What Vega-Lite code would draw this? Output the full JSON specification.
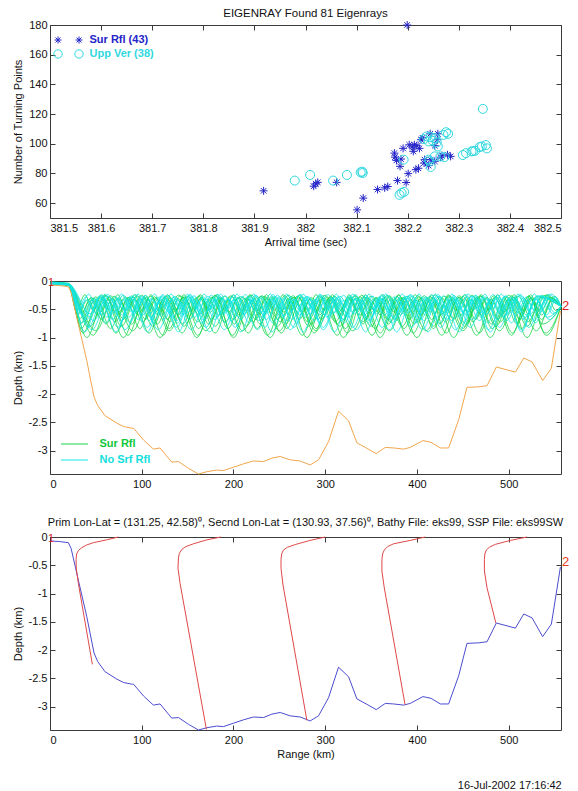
{
"$schema": "https://vega.github.io/schema/vega-lite/v6.json",
"autosize": "none",
"padding": {"left": 50, "top": 25, "right": 528, "bottom": 766},
"title": {"text": "16-Jul-2002 17:16:42", "orient": "bottom", "anchor": "end", "frame": "bounds", "offset": 20, "dx": -8, "fontSize": 11, "fontWeight": "normal", "color": "#111"},
"datasets": {
"pts": [
{"t":381.918,"n":68.3,"s":"Sur Rfl (43)"},{"t":382.016,"n":71.4,"s":"Sur Rfl (43)"},{"t":382.020,"n":73.0,"s":"Sur Rfl (43)"},{"t":382.024,"n":74.0,"s":"Sur Rfl (43)"},{"t":382.061,"n":74.0,"s":"Sur Rfl (43)"},{"t":382.101,"n":55.5,"s":"Sur Rfl (43)"},{"t":382.113,"n":63.4,"s":"Sur Rfl (43)"},{"t":382.141,"n":69.2,"s":"Sur Rfl (43)"},{"t":382.155,"n":70.3,"s":"Sur Rfl (43)"},{"t":382.161,"n":71.2,"s":"Sur Rfl (43)"},{"t":382.180,"n":75.2,"s":"Sur Rfl (43)"},{"t":382.197,"n":73.9,"s":"Sur Rfl (43)"},{"t":382.201,"n":79.9,"s":"Sur Rfl (43)"},{"t":382.216,"n":82.6,"s":"Sur Rfl (43)"},{"t":382.221,"n":83.5,"s":"Sur Rfl (43)"},{"t":382.174,"n":93.7,"s":"Sur Rfl (43)"},{"t":382.175,"n":91.0,"s":"Sur Rfl (43)"},{"t":382.178,"n":88.8,"s":"Sur Rfl (43)"},{"t":382.187,"n":89.7,"s":"Sur Rfl (43)"},{"t":382.185,"n":84.8,"s":"Sur Rfl (43)"},{"t":382.191,"n":96.9,"s":"Sur Rfl (43)"},{"t":382.209,"n":97.8,"s":"Sur Rfl (43)"},{"t":382.213,"n":99.3,"s":"Sur Rfl (43)"},{"t":382.218,"n":98.7,"s":"Sur Rfl (43)"},{"t":382.211,"n":94.9,"s":"Sur Rfl (43)"},{"t":382.223,"n":96.9,"s":"Sur Rfl (43)"},{"t":382.226,"n":102.7,"s":"Sur Rfl (43)"},{"t":382.233,"n":89.3,"s":"Sur Rfl (43)"},{"t":382.232,"n":87.0,"s":"Sur Rfl (43)"},{"t":382.244,"n":106.7,"s":"Sur Rfl (43)"},{"t":382.259,"n":106.7,"s":"Sur Rfl (43)"},{"t":382.258,"n":102.7,"s":"Sur Rfl (43)"},{"t":382.253,"n":98.7,"s":"Sur Rfl (43)"},{"t":382.253,"n":88.2,"s":"Sur Rfl (43)"},{"t":382.264,"n":91.0,"s":"Sur Rfl (43)"},{"t":382.278,"n":92.6,"s":"Sur Rfl (43)"},{"t":382.284,"n":91.5,"s":"Sur Rfl (43)"},{"t":382.245,"n":89.3,"s":"Sur Rfl (43)"},{"t":382.199,"n":180,"s":"Sur Rfl (43)"},{"t":382.203,"n":99.3,"s":"Sur Rfl (43)"},{"t":382.241,"n":85.3,"s":"Sur Rfl (43)"},{"t":382.267,"n":92.0,"s":"Sur Rfl (43)"},{"t":382.229,"n":104.0,"s":"Sur Rfl (43)"},
{"t":381.979,"n":75.2,"s":"Upp Ver (38)"},{"t":382.009,"n":79.0,"s":"Upp Ver (38)"},{"t":382.054,"n":75.2,"s":"Upp Ver (38)"},{"t":382.081,"n":79.0,"s":"Upp Ver (38)"},{"t":382.108,"n":80.8,"s":"Upp Ver (38)"},{"t":382.111,"n":81.2,"s":"Upp Ver (38)"},{"t":382.184,"n":65.6,"s":"Upp Ver (38)"},{"t":382.188,"n":66.9,"s":"Upp Ver (38)"},{"t":382.193,"n":67.6,"s":"Upp Ver (38)"},{"t":382.192,"n":89.3,"s":"Upp Ver (38)"},{"t":382.245,"n":84.4,"s":"Upp Ver (38)"},{"t":382.243,"n":88.2,"s":"Upp Ver (38)"},{"t":382.253,"n":91.5,"s":"Upp Ver (38)"},{"t":382.264,"n":91.5,"s":"Upp Ver (38)"},{"t":382.232,"n":103.1,"s":"Upp Ver (38)"},{"t":382.241,"n":101.6,"s":"Upp Ver (38)"},{"t":382.245,"n":104.5,"s":"Upp Ver (38)"},{"t":382.253,"n":103.8,"s":"Upp Ver (38)"},{"t":382.259,"n":98.2,"s":"Upp Ver (38)"},{"t":382.257,"n":100.9,"s":"Upp Ver (38)"},{"t":382.270,"n":106.0,"s":"Upp Ver (38)"},{"t":382.275,"n":107.8,"s":"Upp Ver (38)"},{"t":382.279,"n":106.7,"s":"Upp Ver (38)"},{"t":382.308,"n":92.4,"s":"Upp Ver (38)"},{"t":382.314,"n":93.7,"s":"Upp Ver (38)"},{"t":382.325,"n":94.9,"s":"Upp Ver (38)"},{"t":382.332,"n":95.3,"s":"Upp Ver (38)"},{"t":382.341,"n":97.8,"s":"Upp Ver (38)"},{"t":382.345,"n":98.2,"s":"Upp Ver (38)"},{"t":382.353,"n":99.1,"s":"Upp Ver (38)"},{"t":382.355,"n":96.9,"s":"Upp Ver (38)"},{"t":382.347,"n":123.5,"s":"Upp Ver (38)"},{"t":382.237,"n":104.9,"s":"Upp Ver (38)"},{"t":382.241,"n":89.3,"s":"Upp Ver (38)"},{"t":382.272,"n":91.0,"s":"Upp Ver (38)"},{"t":382.112,"n":80.3,"s":"Upp Ver (38)"},{"t":382.249,"n":102.0,"s":"Upp Ver (38)"},{"t":382.328,"n":95.0,"s":"Upp Ver (38)"}
],
"green": [
{"i":1,"r":0,"d":-0.03},{"i":1,"r":20,"d":-0.05},{"i":1,"r":40,"d":-1},{"i":1,"r":60,"d":-0.25},{"i":1,"r":80,"d":-1},{"i":1,"r":100,"d":-0.25},{"i":1,"r":120,"d":-1},{"i":1,"r":140,"d":-0.25},{"i":1,"r":160,"d":-1},{"i":1,"r":180,"d":-0.25},{"i":1,"r":200,"d":-1},{"i":1,"r":220,"d":-0.25},{"i":1,"r":240,"d":-1},{"i":1,"r":260,"d":-0.25},{"i":1,"r":280,"d":-1},{"i":1,"r":300,"d":-0.25},{"i":1,"r":320,"d":-1},{"i":1,"r":340,"d":-0.25},{"i":1,"r":360,"d":-1},{"i":1,"r":380,"d":-0.25},{"i":1,"r":400,"d":-1},{"i":1,"r":420,"d":-0.25},{"i":1,"r":440,"d":-1},{"i":1,"r":460,"d":-0.25},{"i":1,"r":480,"d":-1},{"i":1,"r":500,"d":-0.25},{"i":1,"r":520,"d":-1},{"i":1,"r":540,"d":-0.25},{"i":1,"r":557,"d":-0.45},
{"i":2,"r":0,"d":-0.04},{"i":2,"r":20,"d":-0.06},{"i":2,"r":36,"d":-0.92},{"i":2,"r":54,"d":-0.27},{"i":2,"r":72,"d":-0.92},{"i":2,"r":90,"d":-0.27},{"i":2,"r":108,"d":-0.92},{"i":2,"r":126,"d":-0.27},{"i":2,"r":144,"d":-0.92},{"i":2,"r":162,"d":-0.27},{"i":2,"r":180,"d":-0.92},{"i":2,"r":198,"d":-0.27},{"i":2,"r":216,"d":-0.92},{"i":2,"r":234,"d":-0.27},{"i":2,"r":252,"d":-0.92},{"i":2,"r":270,"d":-0.27},{"i":2,"r":288,"d":-0.92},{"i":2,"r":306,"d":-0.27},{"i":2,"r":324,"d":-0.92},{"i":2,"r":342,"d":-0.27},{"i":2,"r":360,"d":-0.92},{"i":2,"r":378,"d":-0.27},{"i":2,"r":396,"d":-0.92},{"i":2,"r":414,"d":-0.27},{"i":2,"r":432,"d":-0.92},{"i":2,"r":450,"d":-0.27},{"i":2,"r":468,"d":-0.92},{"i":2,"r":486,"d":-0.27},{"i":2,"r":504,"d":-0.92},{"i":2,"r":522,"d":-0.27},{"i":2,"r":540,"d":-0.92},{"i":2,"r":557,"d":-0.45},
{"i":3,"r":0,"d":-0.05},{"i":3,"r":20,"d":-0.07},{"i":3,"r":34,"d":-0.84},{"i":3,"r":50,"d":-0.28},{"i":3,"r":66,"d":-0.84},{"i":3,"r":82,"d":-0.28},{"i":3,"r":98,"d":-0.84},{"i":3,"r":114,"d":-0.28},{"i":3,"r":130,"d":-0.84},{"i":3,"r":146,"d":-0.28},{"i":3,"r":162,"d":-0.84},{"i":3,"r":178,"d":-0.28},{"i":3,"r":194,"d":-0.84},{"i":3,"r":210,"d":-0.28},{"i":3,"r":226,"d":-0.84},{"i":3,"r":242,"d":-0.28},{"i":3,"r":258,"d":-0.84},{"i":3,"r":274,"d":-0.28},{"i":3,"r":290,"d":-0.84},{"i":3,"r":306,"d":-0.28},{"i":3,"r":322,"d":-0.84},{"i":3,"r":338,"d":-0.28},{"i":3,"r":354,"d":-0.84},{"i":3,"r":370,"d":-0.28},{"i":3,"r":386,"d":-0.84},{"i":3,"r":402,"d":-0.28},{"i":3,"r":418,"d":-0.84},{"i":3,"r":434,"d":-0.28},{"i":3,"r":450,"d":-0.84},{"i":3,"r":466,"d":-0.28},{"i":3,"r":482,"d":-0.84},{"i":3,"r":498,"d":-0.28},{"i":3,"r":514,"d":-0.84},{"i":3,"r":530,"d":-0.28},{"i":3,"r":557,"d":-0.45},
{"i":4,"r":0,"d":-0.02},{"i":4,"r":20,"d":-0.05},{"i":4,"r":33,"d":-0.76},{"i":4,"r":47,"d":-0.3},{"i":4,"r":61,"d":-0.76},{"i":4,"r":75,"d":-0.3},{"i":4,"r":89,"d":-0.76},{"i":4,"r":103,"d":-0.3},{"i":4,"r":117,"d":-0.76},{"i":4,"r":131,"d":-0.3},{"i":4,"r":145,"d":-0.76},{"i":4,"r":159,"d":-0.3},{"i":4,"r":173,"d":-0.76},{"i":4,"r":187,"d":-0.3},{"i":4,"r":201,"d":-0.76},{"i":4,"r":215,"d":-0.3},{"i":4,"r":229,"d":-0.76},{"i":4,"r":243,"d":-0.3},{"i":4,"r":257,"d":-0.76},{"i":4,"r":271,"d":-0.3},{"i":4,"r":285,"d":-0.76},{"i":4,"r":299,"d":-0.3},{"i":4,"r":313,"d":-0.76},{"i":4,"r":327,"d":-0.3},{"i":4,"r":341,"d":-0.76},{"i":4,"r":355,"d":-0.3},{"i":4,"r":369,"d":-0.76},{"i":4,"r":383,"d":-0.3},{"i":4,"r":397,"d":-0.76},{"i":4,"r":411,"d":-0.3},{"i":4,"r":425,"d":-0.76},{"i":4,"r":439,"d":-0.3},{"i":4,"r":453,"d":-0.76},{"i":4,"r":467,"d":-0.3},{"i":4,"r":481,"d":-0.76},{"i":4,"r":495,"d":-0.3},{"i":4,"r":509,"d":-0.76},{"i":4,"r":523,"d":-0.3},{"i":4,"r":537,"d":-0.76},{"i":4,"r":557,"d":-0.45},
{"i":5,"r":0,"d":-0.06},{"i":5,"r":20,"d":-0.08},{"i":5,"r":32,"d":-0.68},{"i":5,"r":44,"d":-0.31},{"i":5,"r":56,"d":-0.68},{"i":5,"r":68,"d":-0.31},{"i":5,"r":80,"d":-0.68},{"i":5,"r":92,"d":-0.31},{"i":5,"r":104,"d":-0.68},{"i":5,"r":116,"d":-0.31},{"i":5,"r":128,"d":-0.68},{"i":5,"r":140,"d":-0.31},{"i":5,"r":152,"d":-0.68},{"i":5,"r":164,"d":-0.31},{"i":5,"r":176,"d":-0.68},{"i":5,"r":188,"d":-0.31},{"i":5,"r":200,"d":-0.68},{"i":5,"r":212,"d":-0.31},{"i":5,"r":224,"d":-0.68},{"i":5,"r":236,"d":-0.31},{"i":5,"r":248,"d":-0.68},{"i":5,"r":260,"d":-0.31},{"i":5,"r":272,"d":-0.68},{"i":5,"r":284,"d":-0.31},{"i":5,"r":296,"d":-0.68},{"i":5,"r":308,"d":-0.31},{"i":5,"r":320,"d":-0.68},{"i":5,"r":332,"d":-0.31},{"i":5,"r":344,"d":-0.68},{"i":5,"r":356,"d":-0.31},{"i":5,"r":368,"d":-0.68},{"i":5,"r":380,"d":-0.31},{"i":5,"r":392,"d":-0.68},{"i":5,"r":404,"d":-0.31},{"i":5,"r":416,"d":-0.68},{"i":5,"r":428,"d":-0.31},{"i":5,"r":440,"d":-0.68},{"i":5,"r":452,"d":-0.31},{"i":5,"r":464,"d":-0.68},{"i":5,"r":476,"d":-0.31},{"i":5,"r":488,"d":-0.68},{"i":5,"r":500,"d":-0.31},{"i":5,"r":512,"d":-0.68},{"i":5,"r":524,"d":-0.31},{"i":5,"r":536,"d":-0.68},{"i":5,"r":548,"d":-0.31},{"i":5,"r":557,"d":-0.45},
{"i":6,"r":0,"d":-0.03},{"i":6,"r":20,"d":-0.06},{"i":6,"r":30,"d":-0.6},{"i":6,"r":41,"d":-0.33},{"i":6,"r":52,"d":-0.6},{"i":6,"r":63,"d":-0.33},{"i":6,"r":74,"d":-0.6},{"i":6,"r":85,"d":-0.33},{"i":6,"r":96,"d":-0.6},{"i":6,"r":107,"d":-0.33},{"i":6,"r":118,"d":-0.6},{"i":6,"r":129,"d":-0.33},{"i":6,"r":140,"d":-0.6},{"i":6,"r":151,"d":-0.33},{"i":6,"r":162,"d":-0.6},{"i":6,"r":173,"d":-0.33},{"i":6,"r":184,"d":-0.6},{"i":6,"r":195,"d":-0.33},{"i":6,"r":206,"d":-0.6},{"i":6,"r":217,"d":-0.33},{"i":6,"r":228,"d":-0.6},{"i":6,"r":239,"d":-0.33},{"i":6,"r":250,"d":-0.6},{"i":6,"r":261,"d":-0.33},{"i":6,"r":272,"d":-0.6},{"i":6,"r":283,"d":-0.33},{"i":6,"r":294,"d":-0.6},{"i":6,"r":305,"d":-0.33},{"i":6,"r":316,"d":-0.6},{"i":6,"r":327,"d":-0.33},{"i":6,"r":338,"d":-0.6},{"i":6,"r":349,"d":-0.33},{"i":6,"r":360,"d":-0.6},{"i":6,"r":371,"d":-0.33},{"i":6,"r":382,"d":-0.6},{"i":6,"r":393,"d":-0.33},{"i":6,"r":404,"d":-0.6},{"i":6,"r":415,"d":-0.33},{"i":6,"r":426,"d":-0.6},{"i":6,"r":437,"d":-0.33},{"i":6,"r":448,"d":-0.6},{"i":6,"r":459,"d":-0.33},{"i":6,"r":470,"d":-0.6},{"i":6,"r":481,"d":-0.33},{"i":6,"r":492,"d":-0.6},{"i":6,"r":503,"d":-0.33},{"i":6,"r":514,"d":-0.6},{"i":6,"r":525,"d":-0.33},{"i":6,"r":536,"d":-0.6},{"i":6,"r":547,"d":-0.33},{"i":6,"r":557,"d":-0.45},
{"i":7,"r":0,"d":-0.04},{"i":7,"r":20,"d":-0.05},{"i":7,"r":47,"d":-0.96},{"i":7,"r":66,"d":-0.26},{"i":7,"r":85,"d":-0.96},{"i":7,"r":104,"d":-0.26},{"i":7,"r":123,"d":-0.96},{"i":7,"r":142,"d":-0.26},{"i":7,"r":161,"d":-0.96},{"i":7,"r":180,"d":-0.26},{"i":7,"r":199,"d":-0.96},{"i":7,"r":218,"d":-0.26},{"i":7,"r":237,"d":-0.96},{"i":7,"r":256,"d":-0.26},{"i":7,"r":275,"d":-0.96},{"i":7,"r":294,"d":-0.26},{"i":7,"r":313,"d":-0.96},{"i":7,"r":332,"d":-0.26},{"i":7,"r":351,"d":-0.96},{"i":7,"r":370,"d":-0.26},{"i":7,"r":389,"d":-0.96},{"i":7,"r":408,"d":-0.26},{"i":7,"r":427,"d":-0.96},{"i":7,"r":446,"d":-0.26},{"i":7,"r":465,"d":-0.96},{"i":7,"r":484,"d":-0.26},{"i":7,"r":503,"d":-0.96},{"i":7,"r":522,"d":-0.26},{"i":7,"r":541,"d":-0.96},{"i":7,"r":557,"d":-0.45},
{"i":8,"r":0,"d":-0.05},{"i":8,"r":20,"d":-0.06},{"i":8,"r":41,"d":-0.72},{"i":8,"r":56,"d":-0.29},{"i":8,"r":71,"d":-0.72},{"i":8,"r":86,"d":-0.29},{"i":8,"r":101,"d":-0.72},{"i":8,"r":116,"d":-0.29},{"i":8,"r":131,"d":-0.72},{"i":8,"r":146,"d":-0.29},{"i":8,"r":161,"d":-0.72},{"i":8,"r":176,"d":-0.29},{"i":8,"r":191,"d":-0.72},{"i":8,"r":206,"d":-0.29},{"i":8,"r":221,"d":-0.72},{"i":8,"r":236,"d":-0.29},{"i":8,"r":251,"d":-0.72},{"i":8,"r":266,"d":-0.29},{"i":8,"r":281,"d":-0.72},{"i":8,"r":296,"d":-0.29},{"i":8,"r":311,"d":-0.72},{"i":8,"r":326,"d":-0.29},{"i":8,"r":341,"d":-0.72},{"i":8,"r":356,"d":-0.29},{"i":8,"r":371,"d":-0.72},{"i":8,"r":386,"d":-0.29},{"i":8,"r":401,"d":-0.72},{"i":8,"r":416,"d":-0.29},{"i":8,"r":431,"d":-0.72},{"i":8,"r":446,"d":-0.29},{"i":8,"r":461,"d":-0.72},{"i":8,"r":476,"d":-0.29},{"i":8,"r":491,"d":-0.72},{"i":8,"r":506,"d":-0.29},{"i":8,"r":521,"d":-0.72},{"i":8,"r":536,"d":-0.29},{"i":8,"r":557,"d":-0.45},
{"i":9,"r":0,"d":-0.03},{"i":9,"r":20,"d":-0.05},{"i":9,"r":29,"d":-0.52},{"i":9,"r":38,"d":-0.24},{"i":9,"r":47,"d":-0.52},{"i":9,"r":56,"d":-0.24},{"i":9,"r":65,"d":-0.52},{"i":9,"r":74,"d":-0.24},{"i":9,"r":83,"d":-0.52},{"i":9,"r":92,"d":-0.24},{"i":9,"r":101,"d":-0.52},{"i":9,"r":110,"d":-0.24},{"i":9,"r":119,"d":-0.52},{"i":9,"r":128,"d":-0.24},{"i":9,"r":137,"d":-0.52},{"i":9,"r":146,"d":-0.24},{"i":9,"r":155,"d":-0.52},{"i":9,"r":164,"d":-0.24},{"i":9,"r":173,"d":-0.52},{"i":9,"r":182,"d":-0.24},{"i":9,"r":191,"d":-0.52},{"i":9,"r":200,"d":-0.24},{"i":9,"r":209,"d":-0.52},{"i":9,"r":218,"d":-0.24},{"i":9,"r":227,"d":-0.52},{"i":9,"r":236,"d":-0.24},{"i":9,"r":245,"d":-0.52},{"i":9,"r":254,"d":-0.24},{"i":9,"r":263,"d":-0.52},{"i":9,"r":272,"d":-0.24},{"i":9,"r":281,"d":-0.52},{"i":9,"r":290,"d":-0.24},{"i":9,"r":299,"d":-0.52},{"i":9,"r":308,"d":-0.24},{"i":9,"r":317,"d":-0.52},{"i":9,"r":326,"d":-0.24},{"i":9,"r":335,"d":-0.52},{"i":9,"r":344,"d":-0.24},{"i":9,"r":353,"d":-0.52},{"i":9,"r":362,"d":-0.24},{"i":9,"r":371,"d":-0.52},{"i":9,"r":380,"d":-0.24},{"i":9,"r":389,"d":-0.52},{"i":9,"r":398,"d":-0.24},{"i":9,"r":407,"d":-0.52},{"i":9,"r":416,"d":-0.24},{"i":9,"r":425,"d":-0.52},{"i":9,"r":434,"d":-0.24},{"i":9,"r":443,"d":-0.52},{"i":9,"r":452,"d":-0.24},{"i":9,"r":461,"d":-0.52},{"i":9,"r":470,"d":-0.24},{"i":9,"r":479,"d":-0.52},{"i":9,"r":488,"d":-0.24},{"i":9,"r":497,"d":-0.52},{"i":9,"r":506,"d":-0.24},{"i":9,"r":515,"d":-0.52},{"i":9,"r":524,"d":-0.24},{"i":9,"r":533,"d":-0.52},{"i":9,"r":542,"d":-0.24},{"i":9,"r":551,"d":-0.52},{"i":9,"r":557,"d":-0.45},
{"i":10,"r":0,"d":-0.04},{"i":10,"r":20,"d":-0.07},{"i":10,"r":50,"d":-0.88},{"i":10,"r":70,"d":-0.27},{"i":10,"r":90,"d":-0.88},{"i":10,"r":110,"d":-0.27},{"i":10,"r":130,"d":-0.88},{"i":10,"r":150,"d":-0.27},{"i":10,"r":170,"d":-0.88},{"i":10,"r":190,"d":-0.27},{"i":10,"r":210,"d":-0.88},{"i":10,"r":230,"d":-0.27},{"i":10,"r":250,"d":-0.88},{"i":10,"r":270,"d":-0.27},{"i":10,"r":290,"d":-0.88},{"i":10,"r":310,"d":-0.27},{"i":10,"r":330,"d":-0.88},{"i":10,"r":350,"d":-0.27},{"i":10,"r":370,"d":-0.88},{"i":10,"r":390,"d":-0.27},{"i":10,"r":410,"d":-0.88},{"i":10,"r":430,"d":-0.27},{"i":10,"r":450,"d":-0.88},{"i":10,"r":470,"d":-0.27},{"i":10,"r":490,"d":-0.88},{"i":10,"r":510,"d":-0.27},{"i":10,"r":530,"d":-0.88},{"i":10,"r":550,"d":-0.27},{"i":10,"r":557,"d":-0.45},
{"i":11,"r":0,"d":-0.05},{"i":11,"r":20,"d":-0.06},{"i":11,"r":35,"d":-0.55},{"i":11,"r":45,"d":-0.29},{"i":11,"r":55,"d":-0.55},{"i":11,"r":65,"d":-0.29},{"i":11,"r":75,"d":-0.55},{"i":11,"r":85,"d":-0.29},{"i":11,"r":95,"d":-0.55},{"i":11,"r":105,"d":-0.29},{"i":11,"r":115,"d":-0.55},{"i":11,"r":125,"d":-0.29},{"i":11,"r":135,"d":-0.55},{"i":11,"r":145,"d":-0.29},{"i":11,"r":155,"d":-0.55},{"i":11,"r":165,"d":-0.29},{"i":11,"r":175,"d":-0.55},{"i":11,"r":185,"d":-0.29},{"i":11,"r":195,"d":-0.55},{"i":11,"r":205,"d":-0.29},{"i":11,"r":215,"d":-0.55},{"i":11,"r":225,"d":-0.29},{"i":11,"r":235,"d":-0.55},{"i":11,"r":245,"d":-0.29},{"i":11,"r":255,"d":-0.55},{"i":11,"r":265,"d":-0.29},{"i":11,"r":275,"d":-0.55},{"i":11,"r":285,"d":-0.29},{"i":11,"r":295,"d":-0.55},{"i":11,"r":305,"d":-0.29},{"i":11,"r":315,"d":-0.55},{"i":11,"r":325,"d":-0.29},{"i":11,"r":335,"d":-0.55},{"i":11,"r":345,"d":-0.29},{"i":11,"r":355,"d":-0.55},{"i":11,"r":365,"d":-0.29},{"i":11,"r":375,"d":-0.55},{"i":11,"r":385,"d":-0.29},{"i":11,"r":395,"d":-0.55},{"i":11,"r":405,"d":-0.29},{"i":11,"r":415,"d":-0.55},{"i":11,"r":425,"d":-0.29},{"i":11,"r":435,"d":-0.55},{"i":11,"r":445,"d":-0.29},{"i":11,"r":455,"d":-0.55},{"i":11,"r":465,"d":-0.29},{"i":11,"r":475,"d":-0.55},{"i":11,"r":485,"d":-0.29},{"i":11,"r":495,"d":-0.55},{"i":11,"r":505,"d":-0.29},{"i":11,"r":515,"d":-0.55},{"i":11,"r":525,"d":-0.29},{"i":11,"r":535,"d":-0.55},{"i":11,"r":545,"d":-0.29},{"i":11,"r":557,"d":-0.45},
{"i":12,"r":0,"d":-0.02},{"i":12,"r":20,"d":-0.04},{"i":12,"r":44,"d":-0.8},{"i":12,"r":61,"d":-0.26},{"i":12,"r":78,"d":-0.8},{"i":12,"r":95,"d":-0.26},{"i":12,"r":112,"d":-0.8},{"i":12,"r":129,"d":-0.26},{"i":12,"r":146,"d":-0.8},{"i":12,"r":163,"d":-0.26},{"i":12,"r":180,"d":-0.8},{"i":12,"r":197,"d":-0.26},{"i":12,"r":214,"d":-0.8},{"i":12,"r":231,"d":-0.26},{"i":12,"r":248,"d":-0.8},{"i":12,"r":265,"d":-0.26},{"i":12,"r":282,"d":-0.8},{"i":12,"r":299,"d":-0.26},{"i":12,"r":316,"d":-0.8},{"i":12,"r":333,"d":-0.26},{"i":12,"r":350,"d":-0.8},{"i":12,"r":367,"d":-0.26},{"i":12,"r":384,"d":-0.8},{"i":12,"r":401,"d":-0.26},{"i":12,"r":418,"d":-0.8},{"i":12,"r":435,"d":-0.26},{"i":12,"r":452,"d":-0.8},{"i":12,"r":469,"d":-0.26},{"i":12,"r":486,"d":-0.8},{"i":12,"r":503,"d":-0.26},{"i":12,"r":520,"d":-0.8},{"i":12,"r":537,"d":-0.26},{"i":12,"r":557,"d":-0.45}
],
"cyan": [
{"i":1,"r":0,"d":-0.04},{"i":1,"r":20,"d":-0.06},{"i":1,"r":38,"d":-0.9},{"i":1,"r":55,"d":-0.26},{"i":1,"r":72,"d":-0.9},{"i":1,"r":89,"d":-0.26},{"i":1,"r":106,"d":-0.9},{"i":1,"r":123,"d":-0.26},{"i":1,"r":140,"d":-0.9},{"i":1,"r":157,"d":-0.26},{"i":1,"r":174,"d":-0.9},{"i":1,"r":191,"d":-0.26},{"i":1,"r":208,"d":-0.9},{"i":1,"r":225,"d":-0.26},{"i":1,"r":242,"d":-0.9},{"i":1,"r":259,"d":-0.26},{"i":1,"r":276,"d":-0.9},{"i":1,"r":293,"d":-0.26},{"i":1,"r":310,"d":-0.9},{"i":1,"r":327,"d":-0.26},{"i":1,"r":344,"d":-0.9},{"i":1,"r":361,"d":-0.26},{"i":1,"r":378,"d":-0.9},{"i":1,"r":395,"d":-0.26},{"i":1,"r":412,"d":-0.9},{"i":1,"r":429,"d":-0.26},{"i":1,"r":446,"d":-0.9},{"i":1,"r":463,"d":-0.26},{"i":1,"r":480,"d":-0.9},{"i":1,"r":497,"d":-0.26},{"i":1,"r":514,"d":-0.9},{"i":1,"r":531,"d":-0.26},{"i":1,"r":557,"d":-0.45},
{"i":2,"r":0,"d":-0.03},{"i":2,"r":20,"d":-0.05},{"i":2,"r":42,"d":-0.82},{"i":2,"r":58,"d":-0.28},{"i":2,"r":74,"d":-0.82},{"i":2,"r":90,"d":-0.28},{"i":2,"r":106,"d":-0.82},{"i":2,"r":122,"d":-0.28},{"i":2,"r":138,"d":-0.82},{"i":2,"r":154,"d":-0.28},{"i":2,"r":170,"d":-0.82},{"i":2,"r":186,"d":-0.28},{"i":2,"r":202,"d":-0.82},{"i":2,"r":218,"d":-0.28},{"i":2,"r":234,"d":-0.82},{"i":2,"r":250,"d":-0.28},{"i":2,"r":266,"d":-0.82},{"i":2,"r":282,"d":-0.28},{"i":2,"r":298,"d":-0.82},{"i":2,"r":314,"d":-0.28},{"i":2,"r":330,"d":-0.82},{"i":2,"r":346,"d":-0.28},{"i":2,"r":362,"d":-0.82},{"i":2,"r":378,"d":-0.28},{"i":2,"r":394,"d":-0.82},{"i":2,"r":410,"d":-0.28},{"i":2,"r":426,"d":-0.82},{"i":2,"r":442,"d":-0.28},{"i":2,"r":458,"d":-0.82},{"i":2,"r":474,"d":-0.28},{"i":2,"r":490,"d":-0.82},{"i":2,"r":506,"d":-0.28},{"i":2,"r":522,"d":-0.82},{"i":2,"r":538,"d":-0.28},{"i":2,"r":557,"d":-0.45},
{"i":3,"r":0,"d":-0.05},{"i":3,"r":20,"d":-0.07},{"i":3,"r":35,"d":-0.74},{"i":3,"r":48,"d":-0.3},{"i":3,"r":61,"d":-0.74},{"i":3,"r":74,"d":-0.3},{"i":3,"r":87,"d":-0.74},{"i":3,"r":100,"d":-0.3},{"i":3,"r":113,"d":-0.74},{"i":3,"r":126,"d":-0.3},{"i":3,"r":139,"d":-0.74},{"i":3,"r":152,"d":-0.3},{"i":3,"r":165,"d":-0.74},{"i":3,"r":178,"d":-0.3},{"i":3,"r":191,"d":-0.74},{"i":3,"r":204,"d":-0.3},{"i":3,"r":217,"d":-0.74},{"i":3,"r":230,"d":-0.3},{"i":3,"r":243,"d":-0.74},{"i":3,"r":256,"d":-0.3},{"i":3,"r":269,"d":-0.74},{"i":3,"r":282,"d":-0.3},{"i":3,"r":295,"d":-0.74},{"i":3,"r":308,"d":-0.3},{"i":3,"r":321,"d":-0.74},{"i":3,"r":334,"d":-0.3},{"i":3,"r":347,"d":-0.74},{"i":3,"r":360,"d":-0.3},{"i":3,"r":373,"d":-0.74},{"i":3,"r":386,"d":-0.3},{"i":3,"r":399,"d":-0.74},{"i":3,"r":412,"d":-0.3},{"i":3,"r":425,"d":-0.74},{"i":3,"r":438,"d":-0.3},{"i":3,"r":451,"d":-0.74},{"i":3,"r":464,"d":-0.3},{"i":3,"r":477,"d":-0.74},{"i":3,"r":490,"d":-0.3},{"i":3,"r":503,"d":-0.74},{"i":3,"r":516,"d":-0.3},{"i":3,"r":529,"d":-0.74},{"i":3,"r":542,"d":-0.3},{"i":3,"r":557,"d":-0.45},
{"i":4,"r":0,"d":-0.06},{"i":4,"r":20,"d":-0.07},{"i":4,"r":38,"d":-0.64},{"i":4,"r":50,"d":-0.32},{"i":4,"r":62,"d":-0.64},{"i":4,"r":74,"d":-0.32},{"i":4,"r":86,"d":-0.64},{"i":4,"r":98,"d":-0.32},{"i":4,"r":110,"d":-0.64},{"i":4,"r":122,"d":-0.32},{"i":4,"r":134,"d":-0.64},{"i":4,"r":146,"d":-0.32},{"i":4,"r":158,"d":-0.64},{"i":4,"r":170,"d":-0.32},{"i":4,"r":182,"d":-0.64},{"i":4,"r":194,"d":-0.32},{"i":4,"r":206,"d":-0.64},{"i":4,"r":218,"d":-0.32},{"i":4,"r":230,"d":-0.64},{"i":4,"r":242,"d":-0.32},{"i":4,"r":254,"d":-0.64},{"i":4,"r":266,"d":-0.32},{"i":4,"r":278,"d":-0.64},{"i":4,"r":290,"d":-0.32},{"i":4,"r":302,"d":-0.64},{"i":4,"r":314,"d":-0.32},{"i":4,"r":326,"d":-0.64},{"i":4,"r":338,"d":-0.32},{"i":4,"r":350,"d":-0.64},{"i":4,"r":362,"d":-0.32},{"i":4,"r":374,"d":-0.64},{"i":4,"r":386,"d":-0.32},{"i":4,"r":398,"d":-0.64},{"i":4,"r":410,"d":-0.32},{"i":4,"r":422,"d":-0.64},{"i":4,"r":434,"d":-0.32},{"i":4,"r":446,"d":-0.64},{"i":4,"r":458,"d":-0.32},{"i":4,"r":470,"d":-0.64},{"i":4,"r":482,"d":-0.32},{"i":4,"r":494,"d":-0.64},{"i":4,"r":506,"d":-0.32},{"i":4,"r":518,"d":-0.64},{"i":4,"r":530,"d":-0.32},{"i":4,"r":542,"d":-0.64},{"i":4,"r":557,"d":-0.45},
{"i":5,"r":0,"d":-0.03},{"i":5,"r":20,"d":-0.05},{"i":5,"r":30,"d":-0.56},{"i":5,"r":40,"d":-0.34},{"i":5,"r":50,"d":-0.56},{"i":5,"r":60,"d":-0.34},{"i":5,"r":70,"d":-0.56},{"i":5,"r":80,"d":-0.34},{"i":5,"r":90,"d":-0.56},{"i":5,"r":100,"d":-0.34},{"i":5,"r":110,"d":-0.56},{"i":5,"r":120,"d":-0.34},{"i":5,"r":130,"d":-0.56},{"i":5,"r":140,"d":-0.34},{"i":5,"r":150,"d":-0.56},{"i":5,"r":160,"d":-0.34},{"i":5,"r":170,"d":-0.56},{"i":5,"r":180,"d":-0.34},{"i":5,"r":190,"d":-0.56},{"i":5,"r":200,"d":-0.34},{"i":5,"r":210,"d":-0.56},{"i":5,"r":220,"d":-0.34},{"i":5,"r":230,"d":-0.56},{"i":5,"r":240,"d":-0.34},{"i":5,"r":250,"d":-0.56},{"i":5,"r":260,"d":-0.34},{"i":5,"r":270,"d":-0.56},{"i":5,"r":280,"d":-0.34},{"i":5,"r":290,"d":-0.56},{"i":5,"r":300,"d":-0.34},{"i":5,"r":310,"d":-0.56},{"i":5,"r":320,"d":-0.34},{"i":5,"r":330,"d":-0.56},{"i":5,"r":340,"d":-0.34},{"i":5,"r":350,"d":-0.56},{"i":5,"r":360,"d":-0.34},{"i":5,"r":370,"d":-0.56},{"i":5,"r":380,"d":-0.34},{"i":5,"r":390,"d":-0.56},{"i":5,"r":400,"d":-0.34},{"i":5,"r":410,"d":-0.56},{"i":5,"r":420,"d":-0.34},{"i":5,"r":430,"d":-0.56},{"i":5,"r":440,"d":-0.34},{"i":5,"r":450,"d":-0.56},{"i":5,"r":460,"d":-0.34},{"i":5,"r":470,"d":-0.56},{"i":5,"r":480,"d":-0.34},{"i":5,"r":490,"d":-0.56},{"i":5,"r":500,"d":-0.34},{"i":5,"r":510,"d":-0.56},{"i":5,"r":520,"d":-0.34},{"i":5,"r":530,"d":-0.56},{"i":5,"r":540,"d":-0.34},{"i":5,"r":550,"d":-0.56},{"i":5,"r":557,"d":-0.45},
{"i":6,"r":0,"d":-0.05},{"i":6,"r":20,"d":-0.06},{"i":6,"r":46,"d":-0.86},{"i":6,"r":64,"d":-0.27},{"i":6,"r":82,"d":-0.86},{"i":6,"r":100,"d":-0.27},{"i":6,"r":118,"d":-0.86},{"i":6,"r":136,"d":-0.27},{"i":6,"r":154,"d":-0.86},{"i":6,"r":172,"d":-0.27},{"i":6,"r":190,"d":-0.86},{"i":6,"r":208,"d":-0.27},{"i":6,"r":226,"d":-0.86},{"i":6,"r":244,"d":-0.27},{"i":6,"r":262,"d":-0.86},{"i":6,"r":280,"d":-0.27},{"i":6,"r":298,"d":-0.86},{"i":6,"r":316,"d":-0.27},{"i":6,"r":334,"d":-0.86},{"i":6,"r":352,"d":-0.27},{"i":6,"r":370,"d":-0.86},{"i":6,"r":388,"d":-0.27},{"i":6,"r":406,"d":-0.86},{"i":6,"r":424,"d":-0.27},{"i":6,"r":442,"d":-0.86},{"i":6,"r":460,"d":-0.27},{"i":6,"r":478,"d":-0.86},{"i":6,"r":496,"d":-0.27},{"i":6,"r":514,"d":-0.86},{"i":6,"r":532,"d":-0.27},{"i":6,"r":557,"d":-0.45},
{"i":7,"r":0,"d":-0.04},{"i":7,"r":20,"d":-0.07},{"i":7,"r":40,"d":-0.68},{"i":7,"r":54,"d":-0.31},{"i":7,"r":68,"d":-0.68},{"i":7,"r":82,"d":-0.31},{"i":7,"r":96,"d":-0.68},{"i":7,"r":110,"d":-0.31},{"i":7,"r":124,"d":-0.68},{"i":7,"r":138,"d":-0.31},{"i":7,"r":152,"d":-0.68},{"i":7,"r":166,"d":-0.31},{"i":7,"r":180,"d":-0.68},{"i":7,"r":194,"d":-0.31},{"i":7,"r":208,"d":-0.68},{"i":7,"r":222,"d":-0.31},{"i":7,"r":236,"d":-0.68},{"i":7,"r":250,"d":-0.31},{"i":7,"r":264,"d":-0.68},{"i":7,"r":278,"d":-0.31},{"i":7,"r":292,"d":-0.68},{"i":7,"r":306,"d":-0.31},{"i":7,"r":320,"d":-0.68},{"i":7,"r":334,"d":-0.31},{"i":7,"r":348,"d":-0.68},{"i":7,"r":362,"d":-0.31},{"i":7,"r":376,"d":-0.68},{"i":7,"r":390,"d":-0.31},{"i":7,"r":404,"d":-0.68},{"i":7,"r":418,"d":-0.31},{"i":7,"r":432,"d":-0.68},{"i":7,"r":446,"d":-0.31},{"i":7,"r":460,"d":-0.68},{"i":7,"r":474,"d":-0.31},{"i":7,"r":488,"d":-0.68},{"i":7,"r":502,"d":-0.31},{"i":7,"r":516,"d":-0.68},{"i":7,"r":530,"d":-0.31},{"i":7,"r":544,"d":-0.68},{"i":7,"r":557,"d":-0.45},
{"i":8,"r":0,"d":-0.02},{"i":8,"r":20,"d":-0.04},{"i":8,"r":35,"d":-0.6},{"i":8,"r":46,"d":-0.33},{"i":8,"r":57,"d":-0.6},{"i":8,"r":68,"d":-0.33},{"i":8,"r":79,"d":-0.6},{"i":8,"r":90,"d":-0.33},{"i":8,"r":101,"d":-0.6},{"i":8,"r":112,"d":-0.33},{"i":8,"r":123,"d":-0.6},{"i":8,"r":134,"d":-0.33},{"i":8,"r":145,"d":-0.6},{"i":8,"r":156,"d":-0.33},{"i":8,"r":167,"d":-0.6},{"i":8,"r":178,"d":-0.33},{"i":8,"r":189,"d":-0.6},{"i":8,"r":200,"d":-0.33},{"i":8,"r":211,"d":-0.6},{"i":8,"r":222,"d":-0.33},{"i":8,"r":233,"d":-0.6},{"i":8,"r":244,"d":-0.33},{"i":8,"r":255,"d":-0.6},{"i":8,"r":266,"d":-0.33},{"i":8,"r":277,"d":-0.6},{"i":8,"r":288,"d":-0.33},{"i":8,"r":299,"d":-0.6},{"i":8,"r":310,"d":-0.33},{"i":8,"r":321,"d":-0.6},{"i":8,"r":332,"d":-0.33},{"i":8,"r":343,"d":-0.6},{"i":8,"r":354,"d":-0.33},{"i":8,"r":365,"d":-0.6},{"i":8,"r":376,"d":-0.33},{"i":8,"r":387,"d":-0.6},{"i":8,"r":398,"d":-0.33},{"i":8,"r":409,"d":-0.6},{"i":8,"r":420,"d":-0.33},{"i":8,"r":431,"d":-0.6},{"i":8,"r":442,"d":-0.33},{"i":8,"r":453,"d":-0.6},{"i":8,"r":464,"d":-0.33},{"i":8,"r":475,"d":-0.6},{"i":8,"r":486,"d":-0.33},{"i":8,"r":497,"d":-0.6},{"i":8,"r":508,"d":-0.33},{"i":8,"r":519,"d":-0.6},{"i":8,"r":530,"d":-0.33},{"i":8,"r":541,"d":-0.6},{"i":8,"r":552,"d":-0.33},{"i":8,"r":557,"d":-0.45},
{"i":9,"r":0,"d":-0.04},{"i":9,"r":20,"d":-0.06},{"i":9,"r":33,"d":-0.48},{"i":9,"r":42,"d":-0.23},{"i":9,"r":51,"d":-0.48},{"i":9,"r":60,"d":-0.23},{"i":9,"r":69,"d":-0.48},{"i":9,"r":78,"d":-0.23},{"i":9,"r":87,"d":-0.48},{"i":9,"r":96,"d":-0.23},{"i":9,"r":105,"d":-0.48},{"i":9,"r":114,"d":-0.23},{"i":9,"r":123,"d":-0.48},{"i":9,"r":132,"d":-0.23},{"i":9,"r":141,"d":-0.48},{"i":9,"r":150,"d":-0.23},{"i":9,"r":159,"d":-0.48},{"i":9,"r":168,"d":-0.23},{"i":9,"r":177,"d":-0.48},{"i":9,"r":186,"d":-0.23},{"i":9,"r":195,"d":-0.48},{"i":9,"r":204,"d":-0.23},{"i":9,"r":213,"d":-0.48},{"i":9,"r":222,"d":-0.23},{"i":9,"r":231,"d":-0.48},{"i":9,"r":240,"d":-0.23},{"i":9,"r":249,"d":-0.48},{"i":9,"r":258,"d":-0.23},{"i":9,"r":267,"d":-0.48},{"i":9,"r":276,"d":-0.23},{"i":9,"r":285,"d":-0.48},{"i":9,"r":294,"d":-0.23},{"i":9,"r":303,"d":-0.48},{"i":9,"r":312,"d":-0.23},{"i":9,"r":321,"d":-0.48},{"i":9,"r":330,"d":-0.23},{"i":9,"r":339,"d":-0.48},{"i":9,"r":348,"d":-0.23},{"i":9,"r":357,"d":-0.48},{"i":9,"r":366,"d":-0.23},{"i":9,"r":375,"d":-0.48},{"i":9,"r":384,"d":-0.23},{"i":9,"r":393,"d":-0.48},{"i":9,"r":402,"d":-0.23},{"i":9,"r":411,"d":-0.48},{"i":9,"r":420,"d":-0.23},{"i":9,"r":429,"d":-0.48},{"i":9,"r":438,"d":-0.23},{"i":9,"r":447,"d":-0.48},{"i":9,"r":456,"d":-0.23},{"i":9,"r":465,"d":-0.48},{"i":9,"r":474,"d":-0.23},{"i":9,"r":483,"d":-0.48},{"i":9,"r":492,"d":-0.23},{"i":9,"r":501,"d":-0.48},{"i":9,"r":510,"d":-0.23},{"i":9,"r":519,"d":-0.48},{"i":9,"r":528,"d":-0.23},{"i":9,"r":537,"d":-0.48},{"i":9,"r":546,"d":-0.23},{"i":9,"r":557,"d":-0.45},
{"i":10,"r":0,"d":-0.03},{"i":10,"r":20,"d":-0.06},{"i":10,"r":44,"d":-0.58},{"i":10,"r":56,"d":-0.25},{"i":10,"r":68,"d":-0.58},{"i":10,"r":80,"d":-0.25},{"i":10,"r":92,"d":-0.58},{"i":10,"r":104,"d":-0.25},{"i":10,"r":116,"d":-0.58},{"i":10,"r":128,"d":-0.25},{"i":10,"r":140,"d":-0.58},{"i":10,"r":152,"d":-0.25},{"i":10,"r":164,"d":-0.58},{"i":10,"r":176,"d":-0.25},{"i":10,"r":188,"d":-0.58},{"i":10,"r":200,"d":-0.25},{"i":10,"r":212,"d":-0.58},{"i":10,"r":224,"d":-0.25},{"i":10,"r":236,"d":-0.58},{"i":10,"r":248,"d":-0.25},{"i":10,"r":260,"d":-0.58},{"i":10,"r":272,"d":-0.25},{"i":10,"r":284,"d":-0.58},{"i":10,"r":296,"d":-0.25},{"i":10,"r":308,"d":-0.58},{"i":10,"r":320,"d":-0.25},{"i":10,"r":332,"d":-0.58},{"i":10,"r":344,"d":-0.25},{"i":10,"r":356,"d":-0.58},{"i":10,"r":368,"d":-0.25},{"i":10,"r":380,"d":-0.58},{"i":10,"r":392,"d":-0.25},{"i":10,"r":404,"d":-0.58},{"i":10,"r":416,"d":-0.25},{"i":10,"r":428,"d":-0.58},{"i":10,"r":440,"d":-0.25},{"i":10,"r":452,"d":-0.58},{"i":10,"r":464,"d":-0.25},{"i":10,"r":476,"d":-0.58},{"i":10,"r":488,"d":-0.25},{"i":10,"r":500,"d":-0.58},{"i":10,"r":512,"d":-0.25},{"i":10,"r":524,"d":-0.58},{"i":10,"r":536,"d":-0.25},{"i":10,"r":548,"d":-0.58},{"i":10,"r":557,"d":-0.45},
{"i":11,"r":0,"d":-0.05},{"i":11,"r":20,"d":-0.07},{"i":11,"r":31,"d":-0.5},{"i":11,"r":39,"d":-0.28},{"i":11,"r":47,"d":-0.5},{"i":11,"r":55,"d":-0.28},{"i":11,"r":63,"d":-0.5},{"i":11,"r":71,"d":-0.28},{"i":11,"r":79,"d":-0.5},{"i":11,"r":87,"d":-0.28},{"i":11,"r":95,"d":-0.5},{"i":11,"r":103,"d":-0.28},{"i":11,"r":111,"d":-0.5},{"i":11,"r":119,"d":-0.28},{"i":11,"r":127,"d":-0.5},{"i":11,"r":135,"d":-0.28},{"i":11,"r":143,"d":-0.5},{"i":11,"r":151,"d":-0.28},{"i":11,"r":159,"d":-0.5},{"i":11,"r":167,"d":-0.28},{"i":11,"r":175,"d":-0.5},{"i":11,"r":183,"d":-0.28},{"i":11,"r":191,"d":-0.5},{"i":11,"r":199,"d":-0.28},{"i":11,"r":207,"d":-0.5},{"i":11,"r":215,"d":-0.28},{"i":11,"r":223,"d":-0.5},{"i":11,"r":231,"d":-0.28},{"i":11,"r":239,"d":-0.5},{"i":11,"r":247,"d":-0.28},{"i":11,"r":255,"d":-0.5},{"i":11,"r":263,"d":-0.28},{"i":11,"r":271,"d":-0.5},{"i":11,"r":279,"d":-0.28},{"i":11,"r":287,"d":-0.5},{"i":11,"r":295,"d":-0.28},{"i":11,"r":303,"d":-0.5},{"i":11,"r":311,"d":-0.28},{"i":11,"r":319,"d":-0.5},{"i":11,"r":327,"d":-0.28},{"i":11,"r":335,"d":-0.5},{"i":11,"r":343,"d":-0.28},{"i":11,"r":351,"d":-0.5},{"i":11,"r":359,"d":-0.28},{"i":11,"r":367,"d":-0.5},{"i":11,"r":375,"d":-0.28},{"i":11,"r":383,"d":-0.5},{"i":11,"r":391,"d":-0.28},{"i":11,"r":399,"d":-0.5},{"i":11,"r":407,"d":-0.28},{"i":11,"r":415,"d":-0.5},{"i":11,"r":423,"d":-0.28},{"i":11,"r":431,"d":-0.5},{"i":11,"r":439,"d":-0.28},{"i":11,"r":447,"d":-0.5},{"i":11,"r":455,"d":-0.28},{"i":11,"r":463,"d":-0.5},{"i":11,"r":471,"d":-0.28},{"i":11,"r":479,"d":-0.5},{"i":11,"r":487,"d":-0.28},{"i":11,"r":495,"d":-0.5},{"i":11,"r":503,"d":-0.28},{"i":11,"r":511,"d":-0.5},{"i":11,"r":519,"d":-0.28},{"i":11,"r":527,"d":-0.5},{"i":11,"r":535,"d":-0.28},{"i":11,"r":543,"d":-0.5},{"i":11,"r":551,"d":-0.28},{"i":11,"r":557,"d":-0.45},
{"i":12,"r":0,"d":-0.04},{"i":12,"r":20,"d":-0.05},{"i":12,"r":48,"d":-0.7},{"i":12,"r":63,"d":-0.24},{"i":12,"r":78,"d":-0.7},{"i":12,"r":93,"d":-0.24},{"i":12,"r":108,"d":-0.7},{"i":12,"r":123,"d":-0.24},{"i":12,"r":138,"d":-0.7},{"i":12,"r":153,"d":-0.24},{"i":12,"r":168,"d":-0.7},{"i":12,"r":183,"d":-0.24},{"i":12,"r":198,"d":-0.7},{"i":12,"r":213,"d":-0.24},{"i":12,"r":228,"d":-0.7},{"i":12,"r":243,"d":-0.24},{"i":12,"r":258,"d":-0.7},{"i":12,"r":273,"d":-0.24},{"i":12,"r":288,"d":-0.7},{"i":12,"r":303,"d":-0.24},{"i":12,"r":318,"d":-0.7},{"i":12,"r":333,"d":-0.24},{"i":12,"r":348,"d":-0.7},{"i":12,"r":363,"d":-0.24},{"i":12,"r":378,"d":-0.7},{"i":12,"r":393,"d":-0.24},{"i":12,"r":408,"d":-0.7},{"i":12,"r":423,"d":-0.24},{"i":12,"r":438,"d":-0.7},{"i":12,"r":453,"d":-0.24},{"i":12,"r":468,"d":-0.7},{"i":12,"r":483,"d":-0.24},{"i":12,"r":498,"d":-0.7},{"i":12,"r":513,"d":-0.24},{"i":12,"r":528,"d":-0.7},{"i":12,"r":543,"d":-0.24},{"i":12,"r":557,"d":-0.45}
],
"bathy": [
{"r":0,"d":-0.07},{"r":10,"d":-0.08},{"r":20,"d":-0.1},{"r":23,"d":-0.2},{"r":30,"d":-0.7},{"r":40,"d":-1.4},{"r":48,"d":-2.05},{"r":52,"d":-2.2},{"r":60,"d":-2.38},{"r":72.7,"d":-2.51},{"r":80,"d":-2.57},{"r":89,"d":-2.6},{"r":91,"d":-2.6},{"r":102,"d":-2.81},{"r":112.7,"d":-2.97},{"r":120,"d":-2.95},{"r":132.7,"d":-3.2},{"r":140,"d":-3.19},{"r":151,"d":-3.31},{"r":161.8,"d":-3.41},{"r":170.9,"d":-3.37},{"r":181.8,"d":-3.34},{"r":189,"d":-3.35},{"r":200,"d":-3.29},{"r":211,"d":-3.23},{"r":221.8,"d":-3.18},{"r":232.7,"d":-3.19},{"r":241.8,"d":-3.13},{"r":250.9,"d":-3.1},{"r":261.8,"d":-3.16},{"r":272.7,"d":-3.18},{"r":283.6,"d":-3.25},{"r":292.7,"d":-3.16},{"r":303.6,"d":-2.84},{"r":314.5,"d":-2.3},{"r":325.5,"d":-2.47},{"r":334.5,"d":-2.86},{"r":344.7,"d":-2.95},{"r":355.6,"d":-3.05},{"r":365.5,"d":-2.94},{"r":374.5,"d":-2.95},{"r":385.5,"d":-2.97},{"r":392.7,"d":-2.94},{"r":406.5,"d":-2.82},{"r":415.3,"d":-2.85},{"r":425.5,"d":-2.95},{"r":434.5,"d":-2.95},{"r":445.5,"d":-2.45},{"r":454.5,"d":-1.88},{"r":467.3,"d":-1.87},{"r":476.4,"d":-1.85},{"r":486.5,"d":-1.52},{"r":498.2,"d":-1.57},{"r":507.3,"d":-1.61},{"r":516.4,"d":-1.36},{"r":525.5,"d":-1.43},{"r":537,"d":-1.76},{"r":546.5,"d":-1.54},{"r":556.4,"d":-0.53}
],
"ssp": [
{"p":1,"o":1,"r":74.5,"d":0},{"p":1,"o":2,"r":61.8,"d":-0.05},{"p":1,"o":3,"r":47.3,"d":-0.1},{"p":1,"o":4,"r":40,"d":-0.14},{"p":1,"o":5,"r":34.5,"d":-0.19},{"p":1,"o":6,"r":30.9,"d":-0.24},{"p":1,"o":7,"r":29,"d":-0.3},{"p":1,"o":8,"r":28.4,"d":-0.4},{"p":1,"o":9,"r":28.6,"d":-0.55},{"p":1,"o":10,"r":30.9,"d":-0.82},{"p":1,"o":11,"r":46.2,"d":-2.25},
{"p":2,"o":1,"r":186.2,"d":0},{"p":2,"o":2,"r":171,"d":-0.05},{"p":2,"o":3,"r":156.4,"d":-0.12},{"p":2,"o":4,"r":148,"d":-0.17},{"p":2,"o":5,"r":143.6,"d":-0.22},{"p":2,"o":6,"r":141,"d":-0.29},{"p":2,"o":7,"r":140,"d":-0.37},{"p":2,"o":8,"r":139.5,"d":-0.55},{"p":2,"o":9,"r":141.8,"d":-0.82},{"p":2,"o":10,"r":170.5,"d":-3.4},
{"p":3,"o":1,"r":300,"d":0},{"p":3,"o":2,"r":283.6,"d":-0.06},{"p":3,"o":3,"r":268,"d":-0.13},{"p":3,"o":4,"r":259,"d":-0.18},{"p":3,"o":5,"r":254.5,"d":-0.23},{"p":3,"o":6,"r":252.5,"d":-0.3},{"p":3,"o":7,"r":251.8,"d":-0.4},{"p":3,"o":8,"r":251.8,"d":-0.55},{"p":3,"o":9,"r":254,"d":-0.85},{"p":3,"o":10,"r":280,"d":-3.24},
{"p":4,"o":1,"r":409,"d":0},{"p":4,"o":2,"r":392.7,"d":-0.06},{"p":4,"o":3,"r":374.5,"d":-0.12},{"p":4,"o":4,"r":368,"d":-0.17},{"p":4,"o":5,"r":364.4,"d":-0.23},{"p":4,"o":6,"r":362.5,"d":-0.3},{"p":4,"o":7,"r":361.8,"d":-0.4},{"p":4,"o":8,"r":361.8,"d":-0.6},{"p":4,"o":9,"r":364.4,"d":-0.9},{"p":4,"o":10,"r":387,"d":-2.96},
{"p":5,"o":1,"r":520,"d":0},{"p":5,"o":2,"r":501.8,"d":-0.06},{"p":5,"o":3,"r":485.5,"d":-0.13},{"p":5,"o":4,"r":479,"d":-0.18},{"p":5,"o":5,"r":475.6,"d":-0.23},{"p":5,"o":6,"r":474,"d":-0.3},{"p":5,"o":7,"r":473.5,"d":-0.4},{"p":5,"o":8,"r":473.5,"d":-0.6},{"p":5,"o":9,"r":476.4,"d":-0.9},{"p":5,"o":10,"r":486,"d":-1.52}
],
"rcv": [{"r":557,"d":-0.45,"l":"2"}],
"src": [{"r":0,"d":-0.03,"l":"1"}]
},
"spacing": 63,
"bounds": "flush",
"resolve": {"scale": {"x": "independent", "y": "independent", "color": "independent", "shape": "independent"}, "legend": {"color": "independent"}},
"vconcat": [
{
"width": 511, "height": 193,
"title": {"text": "EIGENRAY Found 81 Eigenrays", "offset": 0},
"data": {"name": "pts"},
"layer": [
{"transform": [{"filter": "datum.s === 'Sur Rfl (43)'"}],
 "mark": {"type": "point", "filled": false, "size": 64, "strokeWidth": 1, "opacity": 1},
 "encoding": {
  "x": {"field": "t", "type": "quantitative", "scale": {"domain": [381.5, 382.5], "nice": false, "zero": false}, "axis": {"title": "Arrival time (sec)", "values": [381.5, 381.6, 381.7, 381.8, 381.9, 382, 382.1, 382.2, 382.3, 382.4, 382.5], "labelExpr": "'' + datum.value"}},
  "y": {"field": "n", "type": "quantitative", "scale": {"domain": [50, 180], "nice": false, "zero": false}, "axis": {"title": "Number of Turning Points", "values": [60, 80, 100, 120, 140, 160, 180]}},
  "shape": {"datum": "star", "type": "nominal", "scale": {"domain": ["star"], "range": ["M-1,0H1M0,-1V1M-0.7,-0.7L0.7,0.7M-0.7,0.7L0.7,-0.7"]}, "legend": null},
  "color": {"field": "s", "type": "nominal", "scale": {"domain": ["Sur Rfl (43)", "Upp Ver (38)"], "range": ["#2424c8", "#30d8e0"]},
   "legend": {"title": null, "orient": "top-left", "offset": 8.5, "padding": 0, "symbolSize": 121, "symbolStrokeWidth": 1, "labelOffset": 18.5, "labelFontSize": 11, "labelFontWeight": "bold", "rowPadding": 1,
    "symbolType": {"expr": "datum.value === 'Sur Rfl (43)' ? 'M-1.91,0H-0.63M-1.27,-0.64V0.64M-1.72,-0.45L-0.82,0.45M-1.72,0.45L-0.82,-0.45M1.91,0H3.19M2.55,-0.64V0.64M2.1,-0.45L3,0.45M2.1,0.45L3,-0.45' : 'M-0.51,0A0.76,0.76 0 1,0 -2.03,0A0.76,0.76 0 1,0 -0.51,0M3.31,0A0.76,0.76 0 1,0 1.79,0A0.76,0.76 0 1,0 3.31,0'"},
    "labelColor": {"expr": "datum.value === 'Sur Rfl (43)' ? '#2424c8' : '#30d8e0'"}
   }}
 }},
{"transform": [{"filter": "datum.s === 'Upp Ver (38)'"}],
 "mark": {"type": "point", "filled": false, "shape": "circle", "size": 81, "strokeWidth": 1, "opacity": 1},
 "encoding": {
  "x": {"field": "t", "type": "quantitative", "axis": {"orient": "top", "labels": false, "title": null, "values": [381.5, 381.6, 381.7, 381.8, 381.9, 382, 382.1, 382.2, 382.3, 382.4, 382.5]}},
  "y": {"field": "n", "type": "quantitative", "axis": {"orient": "right", "labels": false, "title": null, "values": [60, 80, 100, 120, 140, 160, 180]}},
  "color": {"field": "s", "type": "nominal", "legend": null}
 }}
],
"resolve": {"axis": {"x": "independent", "y": "independent"}}
},
{
"width": 511, "height": 193,
"layer": [
{"data": {"name": "green"},
 "mark": {"type": "line", "interpolate": "monotone", "strokeWidth": 0.8},
 "encoding": {
  "x": {"field": "r", "type": "quantitative", "scale": {"domain": [0, 557], "nice": false, "zero": false}, "axis": {"title": null, "values": [0, 100, 200, 300, 400, 500]}},
  "y": {"field": "d", "type": "quantitative", "scale": {"domain": [-3.41, 0], "nice": false, "zero": false}, "axis": {"title": "Depth (km)", "values": [0, -0.5, -1, -1.5, -2, -2.5, -3], "labelExpr": "'' + datum.value"}},
  "detail": {"field": "i", "type": "nominal"},
  "color": {"datum": "Sur Rfl", "type": "nominal", "scale": {"domain": ["Sur Rfl", "No Srf Rfl"], "range": ["#14d64a", "#12e4e4"]},
   "legend": {"title": null, "orient": "bottom-left", "offset": 9.5, "padding": 0, "symbolSize": 121, "symbolStrokeWidth": 1, "labelOffset": 27.5, "labelFontSize": 11, "labelFontWeight": "bold", "rowPadding": 5,
    "encode": {
     "symbols": {"update": {"shape": {"value": "M-0.91,0H4"}}},
     "labels": {"update": {"fill": {"signal": "datum.value === 'Sur Rfl' ? '#10c83c' : '#10dede'"}}}
    }}}
 }},
{"data": {"name": "cyan"},
 "mark": {"type": "line", "interpolate": "monotone", "strokeWidth": 0.8},
 "encoding": {
  "x": {"field": "r", "type": "quantitative", "axis": {"orient": "top", "labels": false, "title": null, "values": [0, 100, 200, 300, 400, 500]}},
  "y": {"field": "d", "type": "quantitative", "axis": {"orient": "right", "labels": false, "title": null, "values": [0, -0.5, -1, -1.5, -2, -2.5, -3]}},
  "detail": {"field": "i", "type": "nominal"},
  "color": {"datum": "No Srf Rfl", "type": "nominal"}
 }},
{"data": {"name": "bathy"},
 "mark": {"type": "line", "color": "#f2a64c", "strokeWidth": 1},
 "encoding": {
  "x": {"field": "r", "type": "quantitative", "axis": null},
  "y": {"field": "d", "type": "quantitative", "axis": null}
 }},
{"data": {"name": "rcv"},
 "mark": {"type": "text", "color": "#e02020", "align": "left", "baseline": "middle", "dx": 1, "fontSize": 13},
 "encoding": {
  "x": {"field": "r", "type": "quantitative", "axis": null},
  "y": {"field": "d", "type": "quantitative", "axis": null},
  "text": {"field": "l"}
 }},
{"data": {"name": "src"},
 "mark": {"type": "text", "color": "#e02020", "align": "left", "baseline": "middle", "dx": -2, "fontSize": 11},
 "encoding": {
  "x": {"field": "r", "type": "quantitative", "axis": null},
  "y": {"field": "d", "type": "quantitative", "axis": null},
  "text": {"field": "l"}
 }}
],
"resolve": {"axis": {"x": "independent", "y": "independent"}}
},
{
"width": 511, "height": 193,
"title": {"text": "Prim Lon-Lat = (131.25, 42.58)⁰, Secnd Lon-Lat = (130.93, 37.56)⁰, Bathy File: eks99, SSP File: eks99SW", "offset": 3, "fontSize": 11},
"layer": [
{"data": {"name": "bathy"},
 "mark": {"type": "line", "color": "#4c4cd0", "strokeWidth": 1},
 "encoding": {
  "x": {"field": "r", "type": "quantitative", "scale": {"domain": [0, 557], "nice": false, "zero": false}, "axis": {"title": "Range (km)", "values": [0, 100, 200, 300, 400, 500]}},
  "y": {"field": "d", "type": "quantitative", "scale": {"domain": [-3.41, 0], "nice": false, "zero": false}, "axis": {"title": "Depth (km)", "values": [0, -0.5, -1, -1.5, -2, -2.5, -3], "labelExpr": "'' + datum.value"}}
 }},
{"data": {"name": "ssp"},
 "mark": {"type": "line", "color": "#e04848", "strokeWidth": 1},
 "encoding": {
  "x": {"field": "r", "type": "quantitative", "axis": {"orient": "top", "labels": false, "title": null, "values": [0, 100, 200, 300, 400, 500]}},
  "y": {"field": "d", "type": "quantitative", "axis": {"orient": "right", "labels": false, "title": null, "values": [0, -0.5, -1, -1.5, -2, -2.5, -3]}},
  "detail": {"field": "p", "type": "nominal"},
  "order": {"field": "o", "type": "quantitative"}
 }},
{"data": {"name": "rcv"},
 "mark": {"type": "text", "color": "#e83a20", "align": "left", "baseline": "middle", "dx": 1, "fontSize": 13},
 "encoding": {
  "x": {"field": "r", "type": "quantitative", "axis": null},
  "y": {"field": "d", "type": "quantitative", "axis": null},
  "text": {"field": "l"}
 }},
{"data": {"name": "src"},
 "mark": {"type": "text", "color": "#e02020", "align": "left", "baseline": "middle", "dx": -2, "fontSize": 11},
 "encoding": {
  "x": {"field": "r", "type": "quantitative", "axis": null},
  "y": {"field": "d", "type": "quantitative", "axis": null},
  "text": {"field": "l"}
 }}
],
"resolve": {"axis": {"x": "independent", "y": "independent"}}
}
],
"config": {
 "font": "Liberation Sans",
 "view": {"stroke": "#3a3a3a", "strokeWidth": 1},
 "axis": {"domain": false, "grid": false, "tickSize": -5, "tickColor": "#3a3a3a", "tickWidth": 1, "labelFont": "Liberation Sans", "labelFontSize": 11, "labelColor": "#111", "titleFont": "Liberation Sans", "titleFontSize": 11, "titleFontWeight": "normal", "titleColor": "#111", "labelPadding": 9, "titlePadding": 3},
 "axisY": {"labelPadding": 8, "titlePadding": 5},
 "title": {"font": "Liberation Sans", "fontSize": 11.5, "fontWeight": "normal", "color": "#111", "frame": "group"},
 "legend": {"labelFont": "Liberation Sans"}
}
}
